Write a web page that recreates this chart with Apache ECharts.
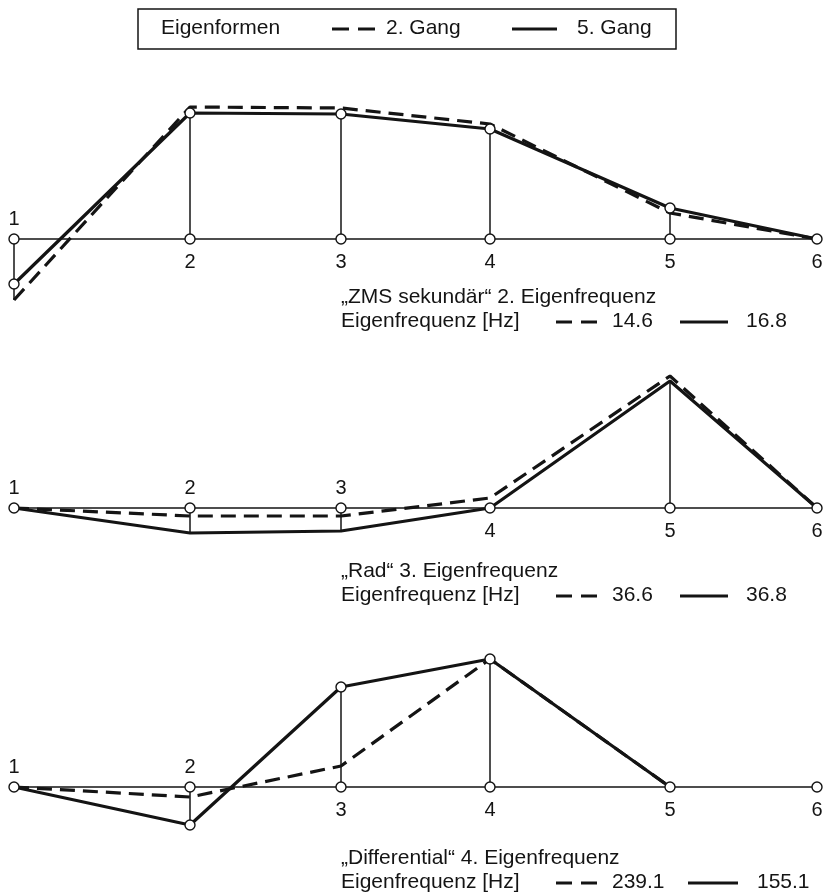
<!DOCTYPE html>
<html>
<head>
<meta charset="utf-8">
<script src="https://cdn.jsdelivr.net/npm/echarts@6/dist/echarts.min.js"></script>
<style>
  html, body { margin: 0; padding: 0; background: #fff; }
  #main { width: 824px; height: 896px; }
</style>
</head>
<body>
<div id="main"></div>
<script>
// Knoten (Position entlang des Strangs)
var nodeNames = ['1', '2', '3', '4', '5', '6'];
var nodePos = [0, 176, 327, 476, 656, 803];

// Eigenform "ZMS sekundär" (2. Eigenfrequenz)
var zmsGang2 = [-61, 132, 131, 115, 26, 0];
var zmsGang5 = [-45, 126, 125, 110, 31, 0];
var zmsStems = [[0, -61], [1, 126], [2, 125], [3, 110], [4, 31]];
var zmsCircles = [0, 1, 2, 3, 4];

// Eigenform "Rad" (3. Eigenfrequenz)
var radGang2 = [0, -8, -8, 10, 132, 0];
var radGang5 = [0, -25, -23, 0, 127, 0];
var radStems = [[1, -25], [2, -23], [4, 127]];
var radCircles = [];

// Eigenform "Differential" (4. Eigenfrequenz)
var difGang2 = [0, -10, 21, 128, 0];
var difGang5 = [0, -38, 100, 128, 0];
var difStems = [[1, -38], [2, 100], [3, 128]];
var difCircles = [1, 2, 3];

// Eigenfrequenzen [Hz]
var modeNames = ['ZMS sekundär', 'Rad', 'Differential'];
var modeNumbers = [2, 3, 4];
var freqGang2 = ['14.6', '36.6', '239.1'];
var freqGang5 = ['16.8', '36.8', '155.1'];
var labelsAbove = [1, 3, 2];

var ink = '#141414';
var fontFam = '"Liberation Sans", Arial, sans-serif';

var panels = [
  { g2: zmsGang2, g5: zmsGang5, stems: zmsStems, circles: zmsCircles, base: 239, cap: 298, solidX: [680, 728], v2X: 746 },
  { g2: radGang2, g5: radGang5, stems: radStems, circles: radCircles, base: 508, cap: 572, solidX: [680, 728], v2X: 746 },
  { g2: difGang2, g5: difGang5, stems: difStems, circles: difCircles, base: 787, cap: 859, solidX: [688, 738], v2X: 757 }
];

var chart = echarts.init(document.getElementById('main'));

var grids = [], xAxes = [], yAxes = [], series = [], graphics = [];

panels.forEach(function (p, i) {
  grids.push({ left: 14, width: 803, top: p.base - 150, height: 250 });
  xAxes.push({ type: 'value', gridIndex: i, min: 0, max: 803, show: false });
  yAxes.push({ type: 'value', gridIndex: i, min: -100, max: 150, show: false });

  // senkrechte Verbindungen Grundlinie -> Auslenkung
  series.push({
    type: 'custom',
    xAxisIndex: i, yAxisIndex: i,
    silent: true,
    z: 1,
    renderItem: function (params, api) {
      var a = api.coord([api.value(0), 0]);
      var b = api.coord([api.value(0), api.value(1)]);
      return {
        type: 'line',
        shape: { x1: a[0], y1: a[1], x2: b[0], y2: b[1] },
        style: { stroke: ink, lineWidth: 1.5 }
      };
    },
    data: p.stems.map(function (s) { return [nodePos[s[0]], s[1]]; })
  });

  // 2. Gang (gestrichelt)
  series.push({
    type: 'line',
    xAxisIndex: i, yAxisIndex: i,
    silent: true,
    z: 3,
    symbol: 'none',
    lineStyle: { color: ink, width: 3.2, type: [15, 8] },
    data: p.g2.map(function (v, k) { return [nodePos[k], v]; })
  });

  // 5. Gang (durchgezogen)
  series.push({
    type: 'line',
    xAxisIndex: i, yAxisIndex: i,
    silent: true,
    z: 4,
    symbolSize: 10,
    itemStyle: { color: '#fff', borderColor: ink, borderWidth: 1.4 },
    lineStyle: { color: ink, width: 3.2 },
    data: p.g5.map(function (v, k) {
      return {
        value: [nodePos[k], v],
        symbol: p.circles.indexOf(k) >= 0 ? 'circle' : 'none'
      };
    })
  });

  // Grundlinie mit Knoten
  series.push({
    type: 'line',
    xAxisIndex: i, yAxisIndex: i,
    silent: true,
    z: 5,
    symbol: 'circle',
    symbolSize: 10,
    itemStyle: { color: '#fff', borderColor: ink, borderWidth: 1.4 },
    lineStyle: { color: ink, width: 1.5 },
    label: {
      show: true,
      position: 'inside',
      color: ink,
      fontSize: 20,
      fontFamily: fontFam,
      formatter: function (d) { return nodeNames[d.dataIndex]; }
    },
    data: nodePos.map(function (x, k) {
      return {
        value: [x, 0],
        label: { offset: [0, k < labelsAbove[i] ? -20 : 23] }
      };
    })
  });

  // Beschriftung
  var font = '21px ' + fontFam;
  graphics.push({
    type: 'text', left: 341, top: p.cap - 11,
    style: { text: '\u201E' + modeNames[i] + '\u201C ' + modeNumbers[i] + '. Eigenfrequenz', font: font, fill: ink }
  });
  graphics.push({
    type: 'text', left: 341, top: p.cap + 13,
    style: { text: 'Eigenfrequenz [Hz]', font: font, fill: ink }
  });
  graphics.push({
    type: 'line',
    shape: { x1: 556, y1: p.cap + 24, x2: 598, y2: p.cap + 24 },
    style: { stroke: ink, lineWidth: 3, lineDash: [16, 9] }
  });
  graphics.push({
    type: 'text', left: 612, top: p.cap + 13,
    style: { text: freqGang2[i], font: font, fill: ink }
  });
  graphics.push({
    type: 'line',
    shape: { x1: p.solidX[0], y1: p.cap + 24, x2: p.solidX[1], y2: p.cap + 24 },
    style: { stroke: ink, lineWidth: 3 }
  });
  graphics.push({
    type: 'text', left: p.v2X, top: p.cap + 13,
    style: { text: freqGang5[i], font: font, fill: ink }
  });
});

// Legende oben
var lfont = '21px ' + fontFam;
graphics.push({
  type: 'rect',
  shape: { x: 138, y: 9, width: 538, height: 40 },
  style: { fill: '#fff', stroke: ink, lineWidth: 1.5 }
});
graphics.push({ type: 'text', left: 161, top: 18, style: { text: 'Eigenformen', font: lfont, fill: ink } });
graphics.push({
  type: 'line',
  shape: { x1: 332, y1: 29, x2: 376, y2: 29 },
  style: { stroke: ink, lineWidth: 3, lineDash: [17, 9] }
});
graphics.push({ type: 'text', left: 386, top: 18, style: { text: '2. Gang', font: lfont, fill: ink } });
graphics.push({
  type: 'line',
  shape: { x1: 512, y1: 29, x2: 557, y2: 29 },
  style: { stroke: ink, lineWidth: 3 }
});
graphics.push({ type: 'text', left: 577, top: 18, style: { text: '5. Gang', font: lfont, fill: ink } });

var option = {
  backgroundColor: '#fff',
  animation: false,
  grid: grids,
  xAxis: xAxes,
  yAxis: yAxes,
  series: series,
  graphic: graphics
};

chart.setOption(option);
</script>
</body>
</html>
